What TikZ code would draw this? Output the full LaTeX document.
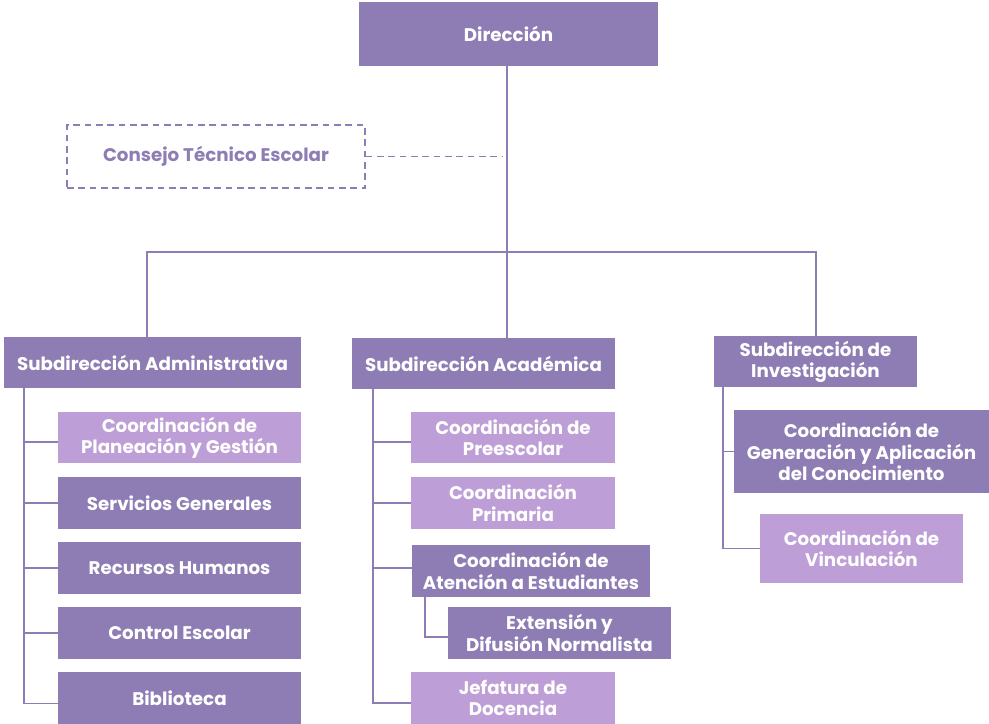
\documentclass[tikz,border=0pt]{standalone}
\usepackage{fontspec}
\setmainfont{Poppins}
\definecolor{orgdark}{HTML}{8E7DB4}
\definecolor{orglight}{HTML}{BE9ED6}
% \orgbox{name}{style}{x1}{y1}{x2}{y2}{text}: box given by its corners in px
\newcommand\orgbox[7]{%
  \node[#2, minimum width={(#5-#3)*0.75pt}, minimum height={(#6-#4)*0.75pt}]
    (#1) at ({(#3+#5)/2},{(#4+#6)/2}) {#7};}
\begin{document}
\begin{tikzpicture}[x=0.75pt, y=-0.75pt,
  unit/.style={inner sep=0pt, align=center, font=\bfseries\fontsize{13.7}{15.9}\selectfont},
  dk/.style={unit, fill=orgdark, text=white},
  lt/.style={unit, fill=orglight, text=white},
  council/.style={unit, draw=orgdark, line width=1.1pt, dash pattern=on 5pt off 3.5pt, text=orgdark},
  link/.style={draw=orgdark, line width=1.4pt},
  dlink/.style={draw=orgdark, line width=1.1pt, dash pattern=on 5pt off 3.5pt}]
\useasboundingbox (0,0) rectangle (989,724);

% top level
\orgbox{dir}{dk}{359}{2}{658}{66}{Dirección}
\orgbox{cte}{council}{67}{125}{365}{188}{Consejo Técnico Escolar}

% sub-directorates
\orgbox{adm}{dk}{4}{337}{301}{388}{Subdirección Administrativa}
\orgbox{aca}{dk}{352}{338}{615}{389}{Subdirección Académica}
\orgbox{inv}{dk}{714}{336}{917}{387}{Subdirección de\\Investigación}

% administrative units
\orgbox{pln}{lt}{58}{412}{301}{463}{Coordinación de\\Planeación y Gestión}
\orgbox{svc}{dk}{58}{477}{301}{529}{Servicios Generales}
\orgbox{rhu}{dk}{58}{542}{301}{594}{Recursos Humanos}
\orgbox{ces}{dk}{58}{607}{301}{659}{Control Escolar}
\orgbox{bib}{dk}{58}{672}{301}{724}{Biblioteca}

% academic units
\orgbox{pre}{lt}{411}{412}{615}{463}{Coordinación de\\Preescolar}
\orgbox{pri}{lt}{411}{477}{615}{529}{Coordinación\\Primaria}
\orgbox{ate}{dk}{412}{545}{650}{597}{Coordinación de\\Atención a Estudiantes}
\orgbox{ext}{dk}{448}{607}{671}{659}{Extensión y\\Difusión Normalista}
\orgbox{jef}{lt}{411}{672}{615}{724}{Jefatura de\\Docencia}

% research units
\orgbox{gac}{dk}{734}{410}{989}{493}{Coordinación de\\Generación y Aplicación\\del Conocimiento}
\orgbox{vin}{lt}{760}{514}{963}{583}{Coordinación de\\Vinculación}

% trunk and main bar
\coordinate (trunk) at (507,252);
\coordinate (barl) at (147,252);
\coordinate (barr) at (816,252);
\coordinate (cteend) at (503,0);
\draw[link] (dir.south -| trunk) -- (aca.north -| trunk);
\draw[link] (adm.north -| barl) -- (barl) -- (barr) -- (inv.north -| barr);
\draw[dlink] (cte.east) -- (cte.east -| cteend);

% administrative branch
\coordinate (la) at (24,0);
\draw[link] (adm.south -| la) |- ([yshift=-4.1pt]bib.west);
\draw[link] ([yshift=-3.4pt]pln.west) -- ([yshift=-3.4pt]pln.west -| la);
\foreach \u in {svc,rhu,ces} \draw[link] (\u.west) -- (\u.west -| la);

% academic branch
\coordinate (ma) at (373,0);
\draw[link] (aca.south -| ma) |- ([yshift=-3.8pt]jef.west);
\draw[link] ([yshift=-3.4pt]pre.west) -- ([yshift=-3.4pt]pre.west -| ma);
\draw[link] (pri.west) -- (pri.west -| ma);
\draw[link] ([yshift=2.2pt]ate.west) -- ([yshift=2.2pt]ate.west -| ma);
\coordinate (sa) at (425,0);
\draw[link] (ate.south -| sa) |- ([yshift=-3pt]ext.west);

% research branch
\coordinate (ra) at (723,0);
\draw[link] (inv.south -| ra) |- (vin.west);
\draw[link] (gac.west) -- (gac.west -| ra);
\end{tikzpicture}
\end{document}
